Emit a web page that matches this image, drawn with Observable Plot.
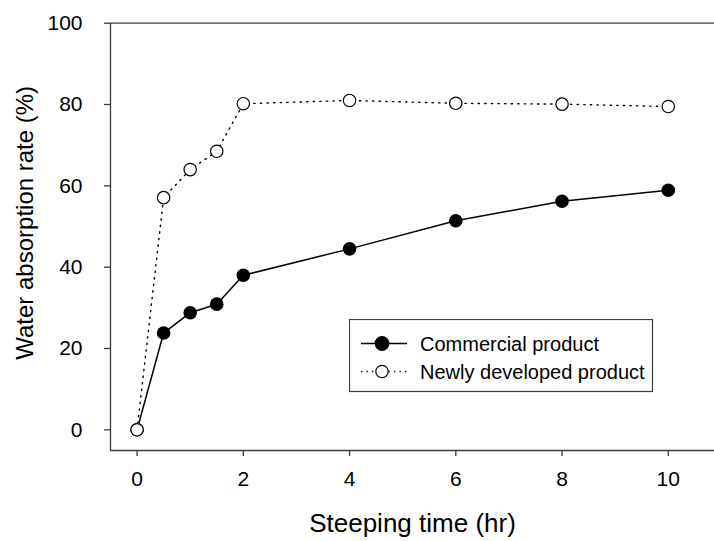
<!DOCTYPE html>
<html>
<head>
<meta charset="utf-8">
<script src="https://cdn.jsdelivr.net/npm/d3@7"></script>
<script src="https://cdn.jsdelivr.net/npm/@observablehq/plot@0.6"></script>
<style>
  html, body { margin: 0; padding: 0; background: #fff; }
  #wrap { position: relative; width: 714px; height: 541px; font-family: "Liberation Sans", Arial, sans-serif; }
  #legend { position: absolute; left: 349px; top: 319px; }
</style>
</head>
<body>
<div id="wrap"><div id="chart"></div><div id="legend"></div></div>
<script>
// Steeping time (hr) at which water absorption was measured
const hours = [0, 0.5, 1, 1.5, 2, 4, 6, 8, 10];
// Water absorption rate (%) for each product
const commercial = [0, 23.8, 28.8, 30.9, 38.0, 44.5, 51.4, 56.2, 58.9];
const newlyDeveloped = [0, 57.1, 64.0, 68.5, 80.2, 81.0, 80.3, 80.1, 79.5];
const seriesNames = ["Commercial product", "Newly developed product"];
const xTicks = [0, 2, 4, 6, 8, 10];
const yTicks = [0, 20, 40, 60, 80, 100];
const xTitle = "Steeping time (hr)";
const yTitle = "Water absorption rate (%)";

const rows = [
  ...hours.map((h, i) => ({hr: h, value: commercial[i], series: seriesNames[0]})),
  ...hours.map((h, i) => ({hr: h, value: newlyDeveloped[i], series: seriesNames[1]}))
];
const comm = rows.filter(d => d.series === seriesNames[0]);
const newly = rows.filter(d => d.series === seriesNames[1]);

const axisColor = "#3c3c3c";
const xMin = -0.5, xMax = 10.87, yMin = -5.09, yMax = 100;

const chart = Plot.plot({
  width: 714,
  height: 541,
  marginLeft: 110,
  marginRight: 0,
  marginTop: 22.7,
  marginBottom: 91,
  style: {fontFamily: "'Liberation Sans', Arial, sans-serif", background: "#fff", color: "#000"},
  x: {domain: [xMin, xMax]},
  y: {domain: [yMin, yMax]},
  marks: [
    // axis frame lines: left, bottom, and the top line at 100
    Plot.ruleX([xMin], {y1: yMin, y2: yMax, stroke: axisColor, strokeWidth: 1.3}),
    Plot.ruleY([yMin], {stroke: axisColor, strokeWidth: 1.3}),
    Plot.ruleY([yMax], {stroke: axisColor, strokeWidth: 1.3}),
    Plot.axisX(xTicks, {anchor: "bottom", tickSize: 6, tickPadding: 15, fontSize: 21, stroke: axisColor, strokeWidth: 1.3, label: null}),
    Plot.axisY(yTicks, {anchor: "left", tickSize: 6, tickPadding: 22, fontSize: 21, stroke: axisColor, strokeWidth: 1.3, label: null}),
    // series lines
    Plot.line(comm, {x: "hr", y: "value", stroke: "#000", strokeWidth: 1.5}),
    Plot.line(newly, {x: "hr", y: "value", stroke: "#000", strokeWidth: 1.4, strokeDasharray: "1.3 5.3"}),
    // markers
    Plot.dot(comm, {x: "hr", y: "value", r: 6.8, fill: "#000", stroke: "none"}),
    Plot.dot(newly, {x: "hr", y: "value", r: 6.2, fill: "#fff", stroke: "#000", strokeWidth: 1.2}),
    // axis titles
    Plot.text([xTitle], {frameAnchor: "bottom", text: d => d, dy: 73, fontSize: 26, textAnchor: "middle", lineAnchor: "middle"}),
    Plot.text([yTitle], {frameAnchor: "left", text: d => d, dx: -85, dy: -14, rotate: -90, fontSize: 24, textAnchor: "middle", lineAnchor: "middle"})
  ]
});
document.getElementById("chart").appendChild(chart);

// legend: line + marker sample for each series
const styles = [
  {dash: null, fill: "#000", r: 6.8, sw: 1.6},
  {dash: "1.3 4.2", fill: "#fff", r: 6.2, sw: 1.4}
];
const lg = d3.select("#legend").append("svg")
  .attr("width", 305).attr("height", 74)
  .style("font-family", "'Liberation Sans', Arial, sans-serif");
lg.append("rect").attr("x", 0.5).attr("y", 0.5).attr("width", 303).attr("height", 72)
  .attr("fill", "#fff").attr("stroke", axisColor).attr("stroke-width", 1.2);
const item = lg.selectAll("g.item").data(seriesNames).join("g")
  .attr("transform", (d, i) => `translate(0, ${24.5 + i * 28})`);
item.append("line").attr("x1", 12).attr("x2", 58).attr("y1", 0).attr("y2", 0)
  .attr("stroke", "#000").attr("stroke-width", (d, i) => styles[i].sw)
  .attr("stroke-dasharray", (d, i) => styles[i].dash);
item.append("circle").attr("cx", 33).attr("cy", 0).attr("r", (d, i) => styles[i].r)
  .attr("fill", (d, i) => styles[i].fill).attr("stroke", "#000").attr("stroke-width", 1.2);
item.append("text").attr("x", 71).attr("y", 0).attr("dy", "0.35em")
  .attr("font-size", 20).text(d => d);
</script>
</body>
</html>
